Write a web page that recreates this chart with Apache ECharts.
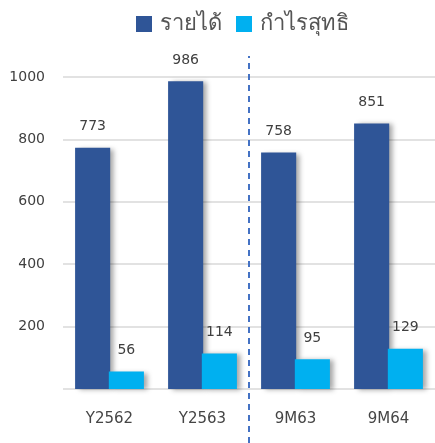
<!DOCTYPE html>
<html><head><meta charset="utf-8">
<script src="https://cdn.jsdelivr.net/npm/echarts@6/dist/echarts.min.js"></script>
<style>html,body{margin:0;padding:0;background:#fff}#c{width:435px;height:443px}</style>
</head><body><div id="c"></div>
<script>
const categories = ['Y2562', 'Y2563', '9M63', '9M64'];
const revenue = [773, 986, 758, 851];
const netProfit = [56, 114, 95, 129];
const seriesNames = ['รายได้', 'กำไรสุทธิ'];
const yTicks = {min: 0, max: 1000, interval: 200};
const dividerAt = 2; // boundary between Y2563 and 9M63 (category index units)

const chart = echarts.init(document.getElementById('c'), null, {renderer: 'canvas'});
const font = '"DejaVu Sans", sans-serif';
const barShadow = {shadowColor: 'rgba(0,0,0,0.35)', shadowBlur: 5, shadowOffsetX: 4, shadowOffsetY: 1};
const label = {show: true, position: 'top', distance: 14, color: '#404040', fontSize: 14, fontFamily: font};
chart.setOption({
  animation: false,
  textStyle: {fontFamily: font},
  legend: {
    data: seriesNames, top: 8, left: 131, itemWidth: 16, itemHeight: 16, itemGap: 14,
    icon: 'rect', textStyle: {fontSize: 22, color: '#555555', fontFamily: font, padding: [0, 0, 0, 3]}
  },
  grid: [
    {left: 63, right: 0, top: 77, bottom: 54, containLabel: false},
    {left: 63, right: 0, top: 56, bottom: 0, containLabel: false}
  ],
  xAxis: [{
    type: 'category', data: categories, gridIndex: 0,
    axisLine: {show: false}, axisTick: {show: false},
    axisLabel: {color: '#454545', fontSize: 15, margin: 23, fontFamily: font}
  }, {
    type: 'value', gridIndex: 1, min: 0, max: categories.length, show: false
  }],
  yAxis: [{
    type: 'value', gridIndex: 0, min: yTicks.min, max: yTicks.max, interval: yTicks.interval,
    axisLine: {show: false}, axisTick: {show: false},
    axisLabel: {color: '#404040', fontSize: 14, margin: 18, fontFamily: font,
      formatter: v => v === 0 ? '' : String(v)},
    splitLine: {lineStyle: {color: '#d9d9d9', width: 1.5}}
  }, {
    type: 'value', gridIndex: 1, min: 0, max: 1, show: false
  }],
  series: [{
    name: seriesNames[0], type: 'bar', data: revenue,
    barCategoryGap: '26%', barGap: '-4%',
    itemStyle: Object.assign({color: '#2F5597'}, barShadow), label: label
  }, {
    name: seriesNames[1], type: 'bar', data: netProfit,
    itemStyle: Object.assign({color: '#00B0F0'}, barShadow), label: label
  }, {
    type: 'scatter', xAxisIndex: 1, yAxisIndex: 1, data: [[dividerAt, 0.5]], symbolSize: 0, silent: true,
    markLine: {
      symbol: 'none', silent: true, label: {show: false},
      lineStyle: {type: [6, 5], color: '#4472C4', width: 2},
      data: [{xAxis: dividerAt}]
    }
  }]
});
</script></body></html>
